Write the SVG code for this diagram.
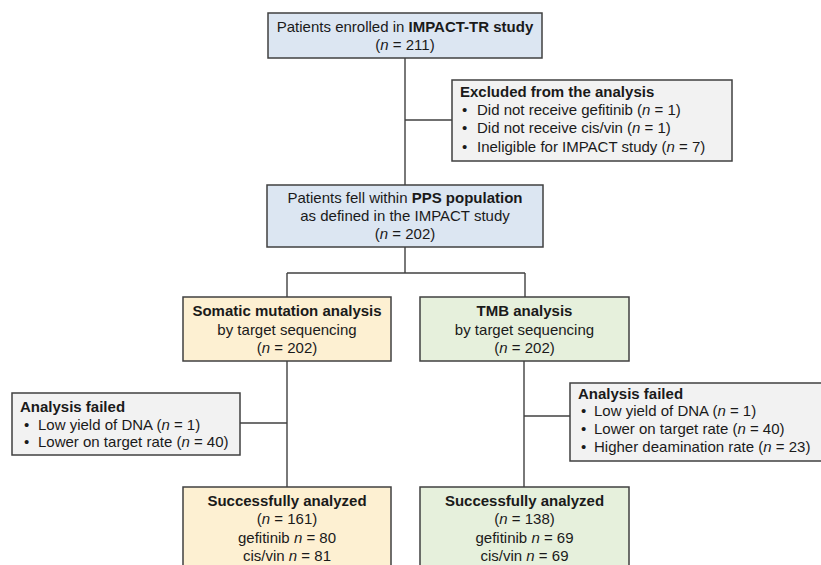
<svg xmlns="http://www.w3.org/2000/svg" width="821" height="565" viewBox="0 0 821 565">
<style>
text{font-family:"Liberation Sans",Arial,sans-serif;font-size:15px;fill:#1a1a1a}
.c{text-anchor:middle}
.b{font-weight:bold}
.i{font-style:italic}
.box{stroke:#404040;stroke-width:1.5}
.blue{fill:#dce6f2}
.yel{fill:#fdf0d2}
.grn{fill:#e6f0dc}
.gry{fill:#f2f2f2}
.ln{stroke:#404040;stroke-width:1.4;fill:none}
</style>
<rect width="821" height="565" fill="#ffffff"/>
<g id="connectors">
<line class="ln" x1="405" y1="58" x2="405" y2="185"/>
<line class="ln" x1="405" y1="120" x2="452" y2="120"/>
<line class="ln" x1="405" y1="247" x2="405" y2="273"/>
<line class="ln" x1="287" y1="273" x2="525" y2="273"/>
<line class="ln" x1="287" y1="273" x2="287" y2="297"/>
<line class="ln" x1="525" y1="273" x2="525" y2="297"/>
<line class="ln" x1="287" y1="361" x2="287" y2="487"/>
<line class="ln" x1="524" y1="361" x2="524" y2="487"/>
<line class="ln" x1="240" y1="423" x2="287" y2="423"/>
<line class="ln" x1="524" y1="416" x2="570" y2="416"/>
</g>
<g id="enrolled">
<rect class="box blue" x="268" y="13" width="274" height="45"/>
<text class="c" x="405" y="32">Patients enrolled in <tspan class="b">IMPACT-TR study</tspan></text>
<text class="c" x="405" y="50">(<tspan class="i">n</tspan> = 211)</text>
</g>
<g id="excluded">
<rect class="box gry" x="452" y="80" width="280" height="81"/>
<text class="b" x="460" y="97">Excluded from the analysis</text>
<text x="462" y="115">•</text><text x="477" y="115">Did not receive gefitinib (<tspan class="i">n</tspan> = 1)</text>
<text x="462" y="133">•</text><text x="477" y="133">Did not receive cis/vin (<tspan class="i">n</tspan> = 1)</text>
<text x="462" y="152">•</text><text x="477" y="152">Ineligible for IMPACT study  (<tspan class="i">n</tspan> = 7)</text>
</g>
<g id="pps">
<rect class="box blue" x="267" y="185" width="276" height="62"/>
<text class="c" x="405" y="203">Patients fell within <tspan class="b">PPS population</tspan></text>
<text class="c" x="405" y="221">as defined in the IMPACT study</text>
<text class="c" x="405" y="239">(<tspan class="i">n</tspan> = 202)</text>
</g>
<g id="somatic">
<rect class="box yel" x="183" y="297" width="208" height="64"/>
<text class="c b" x="287" y="316">Somatic mutation analysis</text>
<text class="c" x="287" y="335">by target sequencing</text>
<text class="c" x="287" y="353">(<tspan class="i">n</tspan> = 202)</text>
</g>
<g id="tmb">
<rect class="box grn" x="420" y="297" width="209" height="64"/>
<text class="c b" x="524.5" y="316">TMB analysis</text>
<text class="c" x="524.5" y="335">by target sequencing</text>
<text class="c" x="524.5" y="353">(<tspan class="i">n</tspan> = 202)</text>
</g>
<g id="failed-left">
<rect class="box gry" x="12" y="393" width="228" height="62"/>
<text class="b" x="20" y="412">Analysis failed</text>
<text x="24" y="430">•</text><text x="38" y="430">Low yield of DNA (<tspan class="i">n</tspan> = 1)</text>
<text x="24" y="447">•</text><text x="38" y="447">Lower on target rate (<tspan class="i">n</tspan> = 40)</text>
</g>
<g id="failed-right">
<rect class="box gry" x="570" y="383" width="255" height="78"/>
<text class="b" x="578" y="399">Analysis failed</text>
<text x="581" y="416">•</text><text x="594" y="416">Low yield of DNA (<tspan class="i">n</tspan> = 1)</text>
<text x="581" y="434">•</text><text x="594" y="434">Lower on target rate (<tspan class="i">n</tspan> = 40)</text>
<text x="581" y="452">•</text><text x="594" y="452">Higher deamination rate (<tspan class="i">n</tspan> = 23)</text>
</g>
<g id="success-left">
<rect class="box yel" x="183" y="487" width="208" height="90"/>
<text class="c b" x="287" y="506">Successfully analyzed</text>
<text class="c" x="287" y="524">(<tspan class="i">n</tspan> = 161)</text>
<text class="c" x="287" y="543">gefitinib <tspan class="i">n</tspan> = 80</text>
<text class="c" x="287" y="561">cis/vin <tspan class="i">n</tspan> = 81</text>
</g>
<g id="success-right">
<rect class="box grn" x="420" y="487" width="209" height="90"/>
<text class="c b" x="524.5" y="506">Successfully analyzed</text>
<text class="c" x="524.5" y="524">(<tspan class="i">n</tspan> = 138)</text>
<text class="c" x="524.5" y="543">gefitinib <tspan class="i">n</tspan> = 69</text>
<text class="c" x="524.5" y="561">cis/vin <tspan class="i">n</tspan> = 69</text>
</g>
</svg>
